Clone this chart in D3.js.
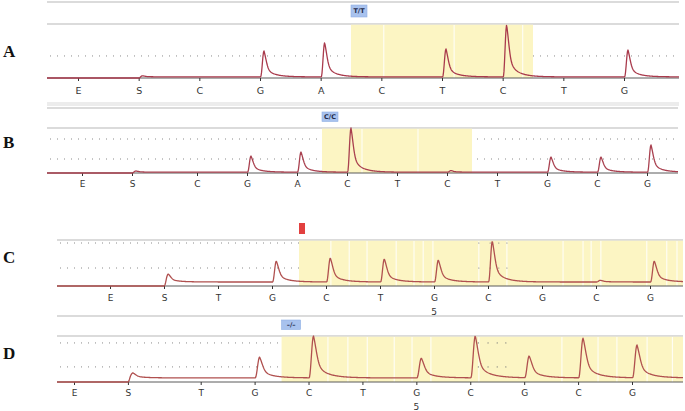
<!DOCTYPE html>
<html>
<head>
<meta charset="utf-8">
<script src="https://cdn.jsdelivr.net/npm/d3@7"></script>
<style>
  body { margin: 0; background: #fff; }
  svg { display: block; }
</style>
</head>
<body>
<svg id="chart" width="685" height="411"></svg>
<script>
// dispensation order, position (in dispensation steps) and peak apex heights
const lettersA = ['E', 'S', 'C', 'G', 'A', 'C', 'T', 'C', 'T', 'G'];
const posA = [0, 1, 2, 3, 4, 5, 6, 7, 8, 9];
const peaksA = [0, 0.1, 0, 1.23, 1.6, 0, 1.32, 2.4, 0, 1.27];
const baseA = 0.05;
const gridA = [1];
const highlightA = [4.5, 7.5];
const stripesA = [5.04, 6.2, 7.33];

const lettersB = ['E', 'S', 'C', 'G', 'A', 'C', 'T', 'C', 'T', 'G', 'C', 'G'];
const posB = [0, 1, 2.3, 3.3, 4.3, 5.3, 6.3, 7.3, 8.3, 9.3, 10.3, 11.3];
const peaksB = [0, 0.1, 0, 0.85, 1.05, 2.25, 0, 0.12, 0, 0.8, 0.8, 1.4];
const baseB = 0.04;
const gridB = [0.7, 1.7];
const highlightB = [4.8, 7.8];
const stripesB = [5.6, 6.72];

const lettersC = ['E', 'S', 'T', 'G', 'C', 'T', 'G', 'C', 'G', 'C', 'G'];
const posC = [0, 1, 2, 3, 4, 5, 6, 7, 8, 9, 10];
const peaksC = [0, 0.48, 0, 1.0, 1.12, 1.08, 1.04, 1.8, 0, 0.23, 1.0];
const baseC = 0.16;
const gridC = [0.72, 1.72];
const highlightC = [3.5, null];
const stripesC = [4.09, 4.43, 4.76, 5.3, 5.63, 5.8, 5.98, 6.83, 7.35, 8.39, 8.76, 8.91, 9.09, 9.94, 10.31, 10.5];
const dotsC = [6.83, 7.04, 7.2, 7.35];

const lettersD = ['E', 'S', 'T', 'G', 'C', 'T', 'G', 'C', 'G', 'C', 'G'];
const posD = [0, 1, 2.35, 3.35, 4.35, 5.35, 6.35, 7.35, 8.35, 9.35, 10.35];
const peaksD = [0, 0.38, 0, 1.04, 1.92, 0, 1.0, 1.92, 1.08, 1.83, 1.54];
const baseD = 0.17;
const gridD = [0.63, 1.63];
const highlightD = [3.85, null];
const stripesD = [4.71, 5.08, 5.44, 5.94, 6.27, 6.62, 7.51, 9.05, 9.72, 10.07, 10.63, 11.1];
const dotsD = [7.5, 7.68, 7.85, 8.01];

const genotypes = ['T/T', 'C/C', '', '\u2013/\u2013'];
const cycleMark = { index: 6, text: '5' };

const panels = [
    { name: 'A', letters: lettersA, pos: posA, peaks: peaksA, base: baseA, grid: gridA,
      hl: highlightA, stripes: stripesA, dots: [], geno: genotypes[0], color: '#a93a4c', spread: 1,
      left: 47, right: 679, x0: 78, x1: 624, axisY: 78, topY: 24, yMax: 2.45,
      lines: [2, 24], labelOff: 16.3, fontSize: 9.5, letterY: 57,
      box: { y: 5, w: 16, h: 12, kind: 'blue' }, mark: false },
    { name: 'B', letters: lettersB, pos: posB, peaks: peaksB, base: baseB, grid: gridB,
      hl: highlightB, stripes: stripesB, dots: [], geno: genotypes[1], color: '#a9404f', spread: 1,
      left: 47, right: 678, x0: 82, x1: 647, axisY: 173, topY: 128, yMax: 2.25,
      lines: [108, 128], labelOff: 14.3, fontSize: 9, letterY: 148,
      box: { y: 112, w: 16, h: 9.5, kind: 'blue' }, mark: false },
    { name: 'C', letters: lettersC, pos: posC, peaks: peaksC, base: baseC, grid: gridC,
      hl: highlightC, stripes: stripesC, dots: dotsC, geno: genotypes[2], color: '#b0504f', spread: 1.1,
      left: 57, right: 683, x0: 110, x1: 650, axisY: 286, topY: 240, yMax: 1.84,
      lines: [240, 316], labelOff: 15.3, fontSize: 9, letterY: 263,
      box: { y: 223, w: 6, h: 11, kind: 'red' }, mark: true, markOff: 29 },
    { name: 'D', letters: lettersD, pos: posD, peaks: peaksD, base: baseD, grid: gridD,
      hl: highlightD, stripes: stripesD, dots: dotsD, geno: genotypes[3], color: '#b0504f', spread: 1.3,
      left: 57, right: 683, x0: 74, x1: 632, axisY: 382, topY: 336, yMax: 1.92,
      lines: [336], labelOff: 14, fontSize: 9, letterY: 359,
      box: { y: 320, w: 19, h: 9.5, kind: 'blue' }, mark: true, markOff: 28 },
];

const svg = d3.select('#chart');

// separator strip under panel A
svg.append('rect')
    .attr('x', 47).attr('y', 102).attr('width', 632).attr('height', 4)
    .attr('fill', '#ececec');

// peak shape: quick rise then decay with a small long tail
function kernel(d) {
    const r = 3.4;
    if (d <= 0) return 0;
    if (d < r) return (1 - Math.cos(Math.PI * d / r)) / 2;
    const t = d - r;
    return 0.36 * Math.exp(-(t * t) / 10) + 0.36 * Math.exp(-t / 3.2) + 0.28 * Math.exp(-t / 10);
}

function drawPanel(p) {
    const g = svg.append('g').attr('class', 'panel-' + p.name);
    const x = d3.scaleLinear().domain([0, d3.max(p.pos)]).range([p.x0, p.x1]);
    const y = d3.scaleLinear().domain([0, p.yMax]).range([p.axisY, p.topY]);

    g.selectAll('line.frame')
        .data(p.lines)
        .join('line')
        .attr('class', 'frame')
        .attr('x1', p.left).attr('x2', p.right)
        .attr('y1', (d) => d).attr('y2', (d) => d)
        .attr('stroke', '#cfcfcf')
        .attr('stroke-width', 1.3);

    g.selectAll('line.grid')
        .data(p.grid)
        .join('line')
        .attr('class', 'grid')
        .attr('x1', p.left + 3).attr('x2', p.right)
        .attr('y1', (d) => y(d)).attr('y2', (d) => y(d))
        .attr('stroke', '#8a8a8a')
        .attr('stroke-width', 1)
        .attr('stroke-dasharray', '1,6');

    const hx0 = x(p.hl[0]);
    const hx1 = p.hl[1] == null ? p.right : x(p.hl[1]);
    g.append('rect')
        .attr('x', hx0).attr('y', p.topY + 0.7)
        .attr('width', hx1 - hx0).attr('height', p.axisY - p.topY - 0.7)
        .attr('fill', '#fcf5c3');

    g.selectAll('line.stripe')
        .data(p.stripes)
        .join('line')
        .attr('class', 'stripe')
        .attr('x1', (d) => x(d)).attr('x2', (d) => x(d))
        .attr('y1', p.topY + 1).attr('y2', p.axisY)
        .attr('stroke', '#ffffff')
        .attr('stroke-opacity', 0.8)
        .attr('stroke-width', 1.2);

    const dotData = [];
    p.dots.forEach((d) => p.grid.forEach((v) => dotData.push([d, v])));
    g.selectAll('circle.dot')
        .data(dotData)
        .join('circle')
        .attr('class', 'dot')
        .attr('cx', (d) => x(d[0]))
        .attr('cy', (d) => y(d[1]))
        .attr('r', 0.6)
        .attr('fill', '#777');

    // axis line + ticks + dispensation letters
    g.append('line')
        .attr('x1', p.left).attr('x2', p.right)
        .attr('y1', p.axisY).attr('y2', p.axisY)
        .attr('stroke', '#5a5a5a')
        .attr('stroke-width', 1);

    const axis = g.append('g')
        .attr('transform', `translate(0, ${p.axisY})`)
        .call(
            d3.axisBottom(x)
                .tickValues(p.pos)
                .tickFormat((d, i) => p.letters[i])
                .tickSize(3)
                .tickSizeOuter(0)
        );
    axis.select('.domain').remove();
    axis.selectAll('line').attr('stroke', '#333');
    axis.selectAll('text')
        .attr('y', p.labelOff)
        .attr('dy', null)
        .attr('fill', '#333')
        .style('font-family', 'DejaVu Sans, sans-serif')
        .style('font-size', p.fontSize + 'px');

    if (p.mark) {
        g.append('text')
            .attr('x', x(p.pos[cycleMark.index]))
            .attr('y', p.axisY + p.markOff)
            .attr('text-anchor', 'middle')
            .attr('fill', '#333')
            .style('font-family', 'DejaVu Sans, sans-serif')
            .style('font-size', p.fontSize + 'px')
            .text(cycleMark.text);
    }

    // pyrogram trace
    const sIdx = p.letters.indexOf('S');
    const xS = x(p.pos[sIdx]);
    const peakPx = p.pos.map((d) => x(d));
    const pts = [];
    for (let px = p.left; px <= p.right; px += 0.5) {
        const ds = px - xS;
        let v = 0;
        if (ds > 0) v = p.base * (ds < 3 ? (1 - Math.cos(Math.PI * ds / 3)) / 2 : 1);
        p.peaks.forEach((h, i) => {
            const amp = h - (i >= sIdx ? p.base : 0);
            if (amp > 0) v += amp * kernel((px - peakPx[i] - 0.6) / p.spread);
        });
        pts.push([px, Math.min(v, p.yMax)]);
    }
    g.append('path')
        .datum(pts)
        .attr('fill', 'none')
        .attr('stroke', p.color)
        .attr('stroke-width', 1.3)
        .attr('stroke-linejoin', 'round')
        .attr('d', d3.line().x((d) => d[0]).y((d) => y(d[1])));

    // genotype / marker box
    const b = p.box;
    if (b.kind === 'red') {
        g.append('rect')
            .attr('x', hx0).attr('y', b.y)
            .attr('width', b.w).attr('height', b.h)
            .attr('fill', '#e2403f');
    } else {
        g.append('rect')
            .attr('x', hx0).attr('y', b.y)
            .attr('width', b.w).attr('height', b.h)
            .attr('fill', '#a8c2ee')
            .attr('stroke', '#8fb0e4')
            .attr('stroke-width', 0.6);
        g.append('text')
            .attr('x', hx0 + b.w / 2)
            .attr('y', b.y + b.h / 2 + 2.3)
            .attr('text-anchor', 'middle')
            .attr('fill', '#1f2a4a')
            .style('font-family', 'DejaVu Sans, sans-serif')
            .style('font-size', '6.5px')
            .style('font-weight', 'bold')
            .text(p.geno);
    }

    svg.append('text')
        .attr('x', 3)
        .attr('y', p.letterY)
        .style('font-family', 'Liberation Serif, Times New Roman, serif')
        .style('font-weight', 'bold')
        .style('font-size', '17px')
        .attr('fill', '#111')
        .text(p.name);
}

panels.forEach(drawPanel);
</script>
</body>
</html>
